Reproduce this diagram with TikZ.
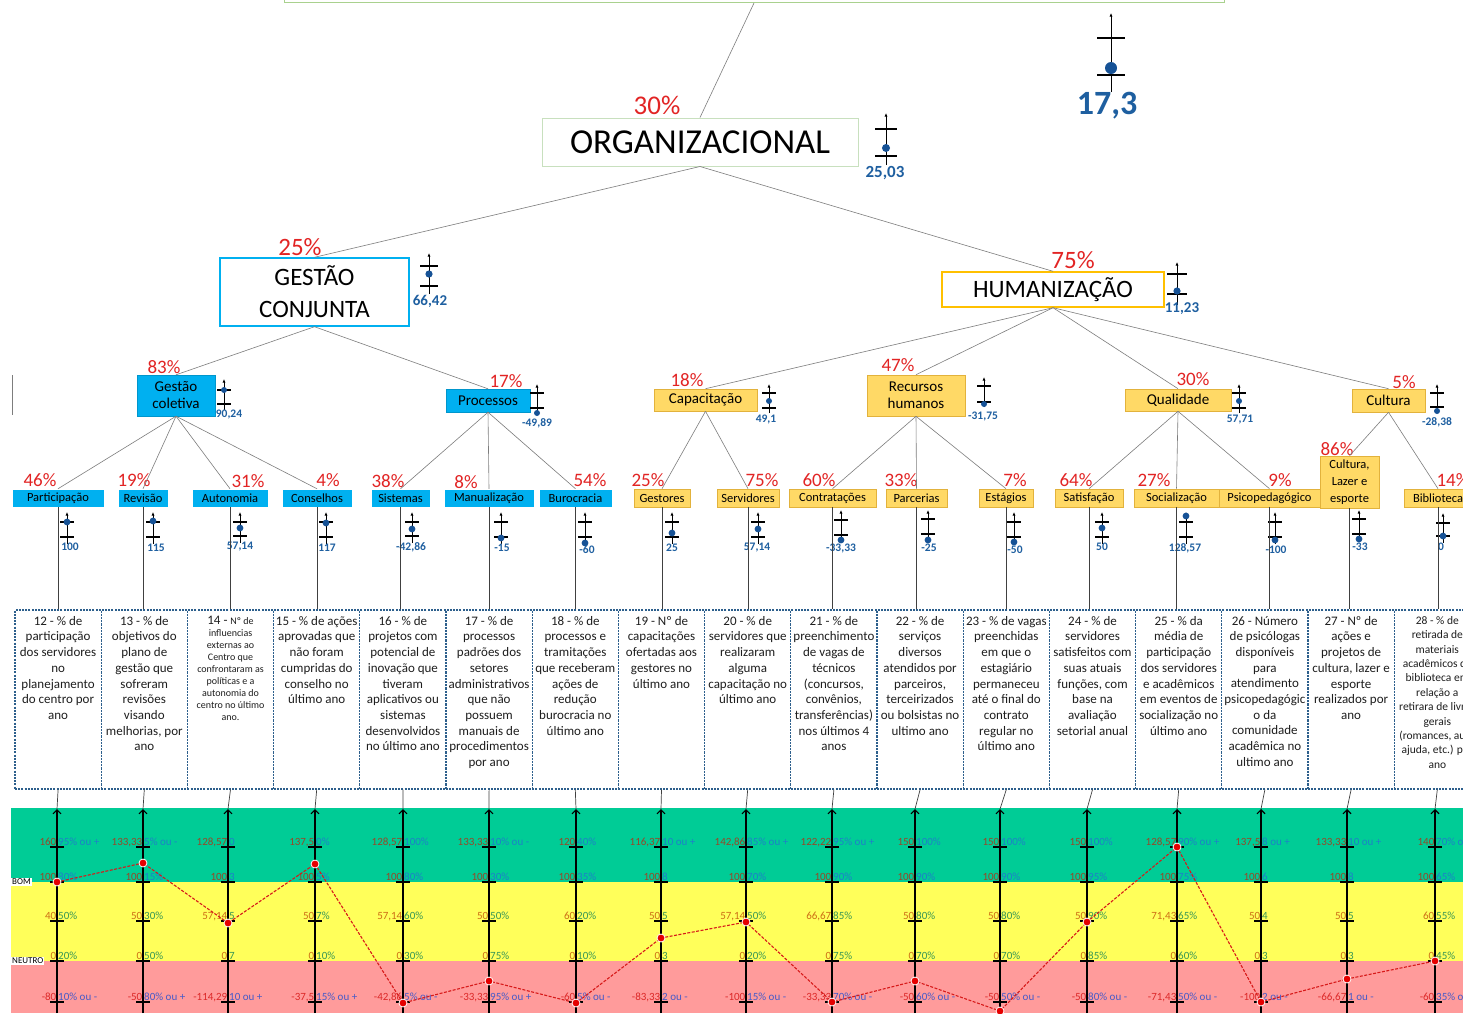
\documentclass[tikz,border=0pt]{standalone}
\usepackage{fontspec}
\setmainfont{Carlito}
\usetikzlibrary{arrows.meta}

\newcommand{\myfs}[2]{\fontsize{#1}{#2}\selectfont}

\definecolor{connGray}{RGB}{125,125,125}
\definecolor{pctRed}{RGB}{226,36,36}
\definecolor{valBlue}{RGB}{30,95,160}
\definecolor{dotBlue}{RGB}{22,82,150}
\definecolor{skyFill}{RGB}{0,176,240}
\definecolor{goldFill}{RGB}{255,217,102}
\definecolor{goldEdge}{RGB}{226,178,60}
\definecolor{humEdge}{RGB}{255,192,0}
\definecolor{orgEdge}{RGB}{200,224,190}
\definecolor{rootEdge}{RGB}{169,209,142}
\definecolor{descEdge}{RGB}{45,95,140}
\definecolor{descText}{RGB}{30,30,30}
\definecolor{bandG}{RGB}{0,204,150}
\definecolor{bandY}{RGB}{255,255,90}
\definecolor{bandR}{RGB}{255,155,155}
\definecolor{labGL}{RGB}{150,72,40}
\definecolor{labGR}{RGB}{30,128,200}
\definecolor{labYL}{RGB}{205,110,20}
\definecolor{labYR}{RGB}{55,150,85}
\definecolor{labRL}{RGB}{220,40,40}
\definecolor{labRR}{RGB}{70,90,200}
\definecolor{trendRed}{RGB}{215,25,25}

\tikzset{
  conn/.style={draw=connGray, line width=0.6pt},
  stem/.style={draw=black!75, line width=0.7pt},
  pctA/.style={text=pctRed, inner sep=0pt, font=\myfs{27}{30}},
  pctB/.style={text=pctRed, inner sep=0pt, font=\myfs{25}{28}},
  pctC/.style={text=pctRed, inner sep=0pt, font=\myfs{19}{22}},
  valS/.style={text=valBlue, inner sep=0pt, font=\bfseries\myfs{11.5}{13}},
  valM/.style={text=valBlue, inner sep=0pt, font=\bfseries\myfs{17}{19}},
  valL/.style={text=valBlue, inner sep=0pt, font=\bfseries\myfs{34}{38}},
  rootbox/.style={draw=rootEdge, line width=1pt, minimum width=940pt, minimum height=40pt, inner sep=0pt},
  orgbox/.style={draw=orgEdge, line width=1pt, fill=white, minimum width=316pt, minimum height=48pt, inner sep=0pt, font=\myfs{35}{38}},
  gcbox/.style={draw=skyFill, line width=1.4pt, fill=white, minimum width=189pt, minimum height=68pt, inner sep=0pt, align=center, font=\myfs{25}{32}},
  humbox/.style={draw=humEdge, line width=1.4pt, fill=white, minimum width=222pt, minimum height=35pt, inner sep=0pt, font=\myfs{25}{28}},
  midblue/.style={fill=skyFill, draw=skyFill!85!black, line width=0.4pt, inner sep=0pt, align=center, font=\myfs{15}{17}},
  midgold/.style={fill=goldFill, draw=goldEdge, line width=0.6pt, inner sep=0pt, align=center, font=\myfs{15}{17}},
  leafblue/.style={fill=skyFill, draw=white, line width=0.5pt, inner sep=0pt, minimum height=18pt, align=center, font=\myfs{12.5}{15}},
  leafgold/.style={fill=goldFill, draw=goldEdge, line width=0.6pt, inner sep=0pt, minimum height=18pt, align=center, font=\myfs{12.5}{15}},
  descframe/.style={draw=descEdge, line width=1.1pt, dash pattern=on 2pt off 1.2pt, minimum width=86.2pt, minimum height=179pt, inner sep=0pt},
  desctext/.style={anchor=north, inner sep=0pt, align=center, text=descText, font=\myfs{13}{15.7}},
  gaxis/.style={draw=black, line width=0.9pt, -{Latex[length=3.5pt,width=3pt]}},
  gtick/.style={draw=black, line width=1.2pt},
  axisline/.style={draw=black, line width=1.1pt, -{Straight Barb[length=4pt,width=8pt]}},
  scaletick/.style={draw=black, line width=1.3pt},
  lval/.style={anchor=base east, inner sep=0pt, font=\myfs{11}{12}},
  rval/.style={anchor=base west, inner sep=0pt, font=\myfs{11}{12}},
  trend/.style={draw=trendRed, line width=1.1pt, dash pattern=on 3pt off 1.5pt},
  trenddot/.style={fill=red!90!black, draw=white, line width=0.8pt},
  bandtag/.style={fill=white, inner sep=1pt, anchor=west, font=\myfs{9}{10}}
}

% gauge: x, top, upper tick, lower tick, dot, tick half-width, dot radius, bottom
\newcommand{\gaugemark}[8]{%
  \draw[gaxis] (#1,#8) -- (#1,#2);
  \draw[gtick] ({#1-#6},#3) -- ({#1+#6},#3);
  \draw[gtick] ({#1-#6},#4) -- ({#1+#6},#4);
  \fill[dotBlue] (#1,#5) circle[radius=#7];
}
% indicator frame with its text
\newcommand{\descbox}[4]{%
  \node[descframe] (#1) at (#2,699.5) {};
  \node[desctext,#3] (#1t) at (#2,616) {#4};
}
% one scale tick with its two labels
\newcommand{\tickrow}[6]{%
  \draw[scaletick] ({#2-7},#3) -- ({#2+7},#3);
  \node[lval, text=lab#6L] (#1l) at ({#2-0.5},{#3-1.8}) {#4};
  \node[rval, text=lab#6R] (#1r) at ({#2+1},{#3-1.8}) {#5};
}
\newcommand{\colup}[6]{%
  \tickrow{#1a}{#2}{847}{#3}{#4}{G}
  \tickrow{#1b}{#2}{882}{#5}{#6}{G}
}
\newcommand{\coldown}[8]{%
  \tickrow{#1c}{#2}{921}{#3}{#4}{Y}
  \tickrow{#1d}{#2}{961}{#5}{#6}{Y}
  \tickrow{#1e}{#2}{1002}{#7}{#8}{R}
}

\begin{document}
\begin{tikzpicture}[x=1pt,y=-1pt]
\useasboundingbox (0,0) rectangle (1463,1013);
\clip (0,0) rectangle (1463,1013);
\fill[white] (0,0) rectangle (1463,1013);

% ---------- upper levels ----------
\node[rootbox, anchor=south] (root) at (754,3) {};
\node[orgbox] (org) at (700,142) {ORGANIZACIONAL};
\node[pctA] (porg) at (657,105) {30\%};
\gaugemark{886}{113}{129}{156}{148}{11}{4}{165}
\node[valM] (vorg) at (885,173) {25,03};

\gaugemark{1111}{13}{38}{75}{68}{14}{6}{92}
\node[valL] (vtop) at (1107,106) {17,3};

\node[gcbox] (gc) at (314.5,292) {GESTÃO\\CONJUNTA};
\node[pctB] (pgc) at (300,247) {25\%};
\gaugemark{429}{253}{266}{286}{274}{9}{3.6}{294}
\node[valS, font=\bfseries\myfs{15}{17}] (vgc) at (430,301) {66,42};

\node[humbox] (hum) at (1053,289.5) {HUMANIZAÇÃO};
\node[pctB] (phum) at (1073,260) {75\%};
\gaugemark{1177}{262}{274}{294}{291}{10}{3.6}{305}
\node[valS, font=\bfseries\myfs{15}{17}] (vhum) at (1182,309) {11,23};

\draw[conn] (root.south) -- (org.north);
\draw[conn] (org.south) -- (gc.north);
\draw[conn] (org.south) -- (hum.north);

% ---------- middle level ----------
\node[midblue, minimum width=78pt, minimum height=41pt] (gcol) at (176,395.5) {Gestão\\coletiva};
\node[pctC] (pgcol) at (164,367) {83\%};
\gaugemark{224}{379}{390}{404}{390}{7}{3}{410}
\node[valS] (vgcol) at (229,414) {90,24};

\node[midblue, minimum width=84pt, minimum height=23pt] (proc) at (488,400.5) {Processos};
\node[pctC] (pproc) at (506,381) {17\%};
\gaugemark{537}{384}{393}{408}{413}{7}{3}{415}
\node[valS] (vproc) at (537,423) {-49,89};

\node[midgold, minimum width=103pt, minimum height=22pt] (cap) at (705.5,400) {Capacitação};
\node[pctC] (pcap) at (687,380) {18\%};
\gaugemark{769}{384}{393}{408}{401}{7}{3}{413}
\node[valS] (vcap) at (766,419) {49,1};

\node[midgold, minimum width=98pt, minimum height=41pt] (rh) at (916,395.5) {Recursos\\humanos};
\node[pctC] (prh) at (898,365) {47\%};
\gaugemark{984}{377}{386}{402}{404}{7}{3}{407}
\node[valS] (vrh) at (983,416) {-31,75};

\node[midgold, minimum width=106pt, minimum height=22pt] (qual) at (1178,400) {Qualidade};
\node[pctC] (pqual) at (1193,379) {30\%};
\gaugemark{1239}{384}{393}{408}{401}{7}{3}{413}
\node[valS] (vqual) at (1240,420) {57,71};

\node[midgold, minimum width=73pt, minimum height=23pt] (cult) at (1388.5,400.5) {Cultura};
\node[pctC] (pcult) at (1404,382) {5\%};
\gaugemark{1437}{384}{393}{407}{411}{7}{3}{413}
\node[valS] (vcult) at (1437,422) {-28,38};

\draw[conn] (gc.south) -- (gcol.north);
\draw[conn] (gc.south) -- (proc.north);
\draw[conn] (hum.south) -- (cap.north);
\draw[conn] (hum.south) -- (rh.north);
\draw[conn] (hum.south) -- (qual.north);
\draw[conn] (hum.south) -- (cult.north);

\draw[conn] (12,375) -- (12,415);

% ---------- leaves ----------
\node[leafblue, minimum width=92pt] (part) at (58,498) {Participação};
\node[leafblue, minimum width=50pt] (rev) at (143,498) {Revisão};
\node[leafblue, minimum width=76pt] (aut) at (230,498) {Autonomia};
\node[leafblue, minimum width=70pt] (cons) at (317,498) {Conselhos};
\node[leafblue, minimum width=59pt] (sis) at (400.5,498) {Sistemas};
\node[leafblue, minimum width=90pt] (man) at (489,498) {Manualização};
\node[leafblue, minimum width=73pt] (bur) at (575.5,498) {Burocracia};
\node[leafgold, minimum width=56pt] (ges) at (662,498) {Gestores};
\node[leafgold, minimum width=62pt] (serv) at (748,498) {Servidores};
\node[leafgold, minimum width=87pt] (contr) at (832.5,498) {Contratações};
\node[leafgold, minimum width=61pt] (parc) at (916.5,498) {Parcerias};
\node[leafgold, minimum width=54pt] (est) at (1006,498) {Estágios};
\node[leafgold, minimum width=68pt] (sat) at (1089,498) {Satisfação};
\node[leafgold, minimum width=85pt] (soc) at (1176.5,498) {Socialização};
\node[leafgold, minimum width=101pt] (psi) at (1269.5,498) {Psicopedagógico};
\node[leafgold, minimum width=59pt, minimum height=52pt, font=\myfs{12.5}{17}] (cle) at (1349.5,482) {Cultura,\\Lazer e\\esporte};
\node[leafgold, minimum width=68pt] (bib) at (1438,498) {Biblioteca};

\node[pctC] (ppart) at (40,480) {46\%};
\node[pctC] (prev) at (134,480) {19\%};
\node[pctC] (paut) at (248,481) {31\%};
\node[pctC] (pcons) at (328,480) {4\%};
\node[pctC] (psis) at (388,481) {38\%};
\node[pctC] (pman) at (466,482) {8\%};
\node[pctC] (pbur) at (590,480) {54\%};
\node[pctC] (pges) at (648,480) {25\%};
\node[pctC] (pserv) at (762,480) {75\%};
\node[pctC] (pcontr) at (819,480) {60\%};
\node[pctC] (pparc) at (901,480) {33\%};
\node[pctC] (pest) at (1015,480) {7\%};
\node[pctC] (psat) at (1076,480) {64\%};
\node[pctC] (psoc) at (1154,480) {27\%};
\node[pctC] (ppsi) at (1280,480) {9\%};
\node[pctC] (pcle) at (1337,449) {86\%};
\node[pctC] (pbib) at (1453,480) {14\%};

\draw[conn] (gcol.south) -- (part.north);
\draw[conn] (gcol.south) -- (rev.north);
\draw[conn] (gcol.south) -- (aut.north);
\draw[conn] (gcol.south) -- (cons.north);
\draw[conn] (proc.south) -- (sis.north);
\draw[conn] (proc.south) -- (man.north);
\draw[conn] (proc.south) -- (bur.north);
\draw[conn] (cap.south) -- (ges.north);
\draw[conn] (cap.south) -- (serv.north);
\draw[conn] (rh.south) -- (contr.north);
\draw[conn] (rh.south) -- (parc.north);
\draw[conn] (rh.south) -- (est.north);
\draw[conn] (qual.south) -- (sat.north);
\draw[conn] (qual.south) -- (soc.north);
\draw[conn] (qual.south) -- (psi.north);
\draw[conn] (cult.south) -- (cle.north);
\draw[conn] (cult.south) -- (bib.north);

% leaf gauges
\gaugemark{67}{512}{522}{537}{522}{7}{3.4}{544}
\node[valS] (vpart) at (70,547) {100};
\gaugemark{153}{512}{522}{537}{521}{7}{3.4}{544}
\node[valS] (vrev) at (156,548) {115};
\gaugemark{240}{512}{522}{536}{528}{7}{3.4}{543}
\node[valS] (vaut) at (240,547) {57,14};
\gaugemark{326}{512}{522}{537}{523}{7}{3.4}{544}
\node[valS] (vcons) at (327,548) {117};
\gaugemark{412}{512}{522}{536}{529}{7}{3.4}{543}
\node[valS] (vsis) at (411,547) {-42,86};
\gaugemark{501}{512}{522}{537}{538}{7}{3.4}{544}
\node[valS] (vman) at (502,548) {-15};
\gaugemark{585}{512}{522}{537}{543}{7}{3.4}{545}
\node[valS] (vbur) at (587,550) {-60};
\gaugemark{672}{512}{522}{537}{533}{7}{3.4}{544}
\node[valS] (vges) at (672,548) {25};
\gaugemark{758}{512}{522}{537}{529}{7}{3.4}{544}
\node[valS] (vserv) at (757,548) {57,14};
\gaugemark{841}{510}{520}{535}{540}{7}{3.4}{542}
\node[valS] (vcontr) at (841,548) {-33,33};
\gaugemark{928}{510}{519}{534}{540}{7}{3.4}{542}
\node[valS] (vparc) at (929,548) {-25};
\gaugemark{1014}{512}{522}{537}{542}{7}{3.4}{544}
\node[valS] (vest) at (1015,550) {-50};
\gaugemark{1102}{512}{522}{537}{528}{7}{3.4}{544}
\node[valS] (vsat) at (1102,547) {50};
\gaugemark{1186}{512}{522}{537}{516}{7}{3.4}{544}
\node[valS] (vsoc) at (1185,548) {128,57};
\gaugemark{1275}{512}{522}{537}{540}{7}{3.4}{544}
\node[valS] (vpsi) at (1276,550) {-100};
\gaugemark{1359}{510}{519}{534}{539}{7}{3.4}{541}
\node[valS] (vcle) at (1360,547) {-33};
\gaugemark{1443}{513}{523}{536}{536}{7}{3.4}{543}
\node[valS] (vbib) at (1441,547) {0};

% ---------- indicator frames ----------
\descbox{d12}{58.1}{}{12 - \% de\\participação\\dos servidores\\no\\planejamento\\do centro por\\ano}
\descbox{d13}{144.3}{}{13 - \% de\\objetivos do\\plano de\\gestão que\\sofreram\\revisões\\visando\\melhorias, por\\ano}
\descbox{d14}{230.5}{font=\myfs{10}{12}}{{\myfs{13}{14}14 - }Nº de\\influencias\\externas ao\\Centro que\\confrontaram as\\políticas e a\\autonomia do\\centro no último\\ano.}
\descbox{d15}{316.7}{}{15 - \% de ações\\aprovadas que\\não foram\\cumpridas do\\conselho no\\último ano}
\descbox{d16}{402.9}{}{16 - \% de\\projetos com\\potencial de\\inovação que\\tiveram\\aplicativos ou\\sistemas\\desenvolvidos\\no último ano}
\descbox{d17}{489.1}{}{17 - \% de\\processos\\padrões dos\\setores\\administrativos\\que não\\possuem\\manuais de\\procedimentos\\por ano}
\descbox{d18}{575.3}{}{18 - \% de\\processos e\\tramitações\\que receberam\\ações de\\redução\\burocracia no\\último ano}
\descbox{d19}{661.5}{}{19 - Nº de\\capacitações\\ofertadas aos\\gestores no\\último ano}
\descbox{d20}{747.7}{}{20 - \% de\\servidores que\\realizaram\\alguma\\capacitação no\\último ano}
\descbox{d21}{833.9}{}{21 - \% de\\preenchimento\\de vagas de\\técnicos\\(concursos,\\convênios,\\transferências)\\nos últimos 4\\anos}
\descbox{d22}{920.1}{}{22 - \% de\\serviços\\diversos\\atendidos por\\parceiros,\\terceirizados\\ou bolsistas no\\ultimo ano}
\descbox{d23}{1006.3}{}{23 - \% de vagas\\preenchidas\\em que o\\estagiário\\permaneceu\\até o final do\\contrato\\regular no\\último ano}
\descbox{d24}{1092.5}{}{24 - \% de\\servidores\\satisfeitos com\\suas atuais\\funções, com\\base na\\avaliação\\setorial anual}
\descbox{d25}{1178.7}{}{25 - \% da\\média de\\participação\\dos servidores\\e acadêmicos\\em eventos de\\socialização no\\último ano}
\descbox{d26}{1264.9}{}{26 - Número\\de psicólogas\\disponíveis\\para\\atendimento\\psicopedagógic\\o da\\comunidade\\acadêmica no\\ultimo ano}
\descbox{d27}{1351.1}{}{27 - Nº de\\ações e\\projetos de\\cultura, lazer e\\esporte\\realizados por\\ano}
\descbox{d28}{1437.3}{font=\myfs{11.5}{14.4}}{28 - \% de\\retirada de\\materiais\\acadêmicos da\\biblioteca em\\relação a\\retirara de livros\\gerais\\(romances, auto\\ajuda, etc.) por\\ano}

\draw[stem] (part.south) -- (part.south |- d12.north);
\draw[stem] (rev.south) -- (rev.south |- d13.north);
\draw[stem] (aut.south) -- (aut.south |- d14.north);
\draw[stem] (cons.south) -- (cons.south |- d15.north);
\draw[stem] (sis.south) -- (sis.south |- d16.north);
\draw[stem] (man.south) -- (man.south |- d17.north);
\draw[stem] (bur.south) -- (bur.south |- d18.north);
\draw[stem] (ges.south) -- (ges.south |- d19.north);
\draw[stem] (serv.south) -- (serv.south |- d20.north);
\draw[stem] (contr.south) -- (contr.south |- d21.north);
\draw[stem] (parc.south) -- (parc.south |- d22.north);
\draw[stem] (est.south) -- (est.south |- d23.north);
\draw[stem] (sat.south) -- (sat.south |- d24.north);
\draw[stem] (soc.south) -- (soc.south |- d25.north);
\draw[stem] (psi.south) -- (psi.south |- d26.north);
\draw[stem] (cle.south) -- (cle.south |- d27.north);
\draw[stem] (bib.south) -- (bib.south |- d28.north);

% ---------- rating bands ----------
\fill[bandG] (11,808) rectangle (1463,882);
\fill[bandY] (11,882) rectangle (1463,961);
\fill[bandR] (11,961) rectangle (1463,1013);

\coordinate (x12) at (57,809);
\coordinate (x13) at (143,809);
\coordinate (x14) at (228,809);
\coordinate (x15) at (315,809);
\coordinate (x16) at (403,809);
\coordinate (x17) at (489,809);
\coordinate (x18) at (576,809);
\coordinate (x19) at (661,809);
\coordinate (x20) at (746,809);
\coordinate (x21) at (832,809);
\coordinate (x22) at (915,809);
\coordinate (x23) at (1000,809);
\coordinate (x24) at (1087,809);
\coordinate (x25) at (1177,809);
\coordinate (x26) at (1261,809);
\coordinate (x27) at (1347,809);
\coordinate (x28) at (1435,809);

\foreach \k in {12,...,28}{
  \draw[stem] (d\k.south) -- (x\k);
  \draw[axisline] (x\k |- 0,1013) -- (x\k);
}

\colup{s12}{57}{160}{95\% ou +}{100}{80\%}
\coldown{s12}{57}{40}{50\%}{0}{20\%}{-80}{10\% ou -}
\colup{s13}{143}{133,33}{5\% ou -}{100}{15\%}
\coldown{s13}{143}{50}{30\%}{0}{50\%}{-50}{80\% ou +}
\colup{s14}{228}{128,57}{0}{100}{3}
\coldown{s14}{228}{57,14}{5}{0}{7}{-114,29}{10 ou +}
\colup{s15}{315}{137,5}{0\%}{100}{5\%}
\coldown{s15}{315}{50}{7\%}{0}{10\%}{-37,5}{15\% ou +}
\colup{s16}{403}{128,57}{100\%}{100}{80\%}
\coldown{s16}{403}{57,14}{60\%}{0}{30\%}{-42,86}{5\% ou -}
\colup{s17}{489}{133,33}{10\% ou -}{100}{30\%}
\coldown{s17}{489}{50}{50\%}{0}{75\%}{-33,33}{95\% ou +}
\colup{s18}{576}{120}{40\%}{100}{35\%}
\coldown{s18}{576}{60}{20\%}{0}{10\%}{-60}{5\% ou -}
\colup{s19}{661}{116,37}{10 ou +}{100}{8}
\coldown{s19}{661}{50}{5}{0}{3}{-83,33}{2 ou -}
\colup{s20}{746}{142,86}{85\% ou +}{100}{70\%}
\coldown{s20}{746}{57,14}{50\%}{0}{20\%}{-100}{15\% ou -}
\colup{s21}{832}{122,22}{95\% ou +}{100}{90\%}
\coldown{s21}{832}{66,67}{85\%}{0}{75\%}{-33,33}{70\% ou -}
\colup{s22}{915}{150}{100\%}{100}{90\%}
\coldown{s22}{915}{50}{80\%}{0}{70\%}{-50}{60\% ou -}
\colup{s23}{1000}{150}{100\%}{100}{90\%}
\coldown{s23}{1000}{50}{80\%}{0}{70\%}{-50}{50\% ou -}
\colup{s24}{1087}{150}{100\%}{100}{95\%}
\coldown{s24}{1087}{50}{90\%}{0}{85\%}{-50}{80\% ou -}
\colup{s25}{1177}{128,57}{90\% ou +}{100}{75\%}
\coldown{s25}{1177}{71,43}{65\%}{0}{60\%}{-71,43}{50\% ou -}
\colup{s26}{1261}{137,5}{8 ou +}{100}{6}
\coldown{s26}{1261}{50}{4}{0}{3}{-100}{2 ou -}
\colup{s27}{1347}{133,33}{10 ou +}{100}{8}
\coldown{s27}{1347}{50}{5}{0}{3}{-66,67}{1 ou -}
\colup{s28}{1435}{140}{70\% ou +}{100}{65\%}
\coldown{s28}{1435}{60}{55\%}{0}{45\%}{-60}{35\% ou -}

% ---------- result line ----------
\coordinate (q12) at (57,882);
\coordinate (q13) at (143,863);
\coordinate (q14) at (228,923);
\coordinate (q15) at (315,864);
\coordinate (q16) at (403,1003);
\coordinate (q17) at (489,981);
\coordinate (q18) at (576,1003);
\coordinate (q19) at (661,938);
\coordinate (q20) at (746,922);
\coordinate (q21) at (832,1002);
\coordinate (q22) at (915,981);
\coordinate (q23) at (1000,1011);
\coordinate (q24) at (1087,922);
\coordinate (q25) at (1177,847);
\coordinate (q26) at (1261,1002);
\coordinate (q27) at (1347,979);
\coordinate (q28) at (1435,961);

\draw[trend] (q12) -- (q13) -- (q14) -- (q15) -- (q16) -- (q17) -- (q18) -- (q19) -- (q20) -- (q21) -- (q22) -- (q23) -- (q24) -- (q25) -- (q26) -- (q27) -- (q28);
\foreach \k in {12,...,28}{
  \filldraw[trenddot] (q\k) circle[radius=4];
}

\node[bandtag] (bom) at (11,882) {BOM};
\node[bandtag] (neutro) at (11,961) {NEUTRO};
\end{tikzpicture}
\end{document}
